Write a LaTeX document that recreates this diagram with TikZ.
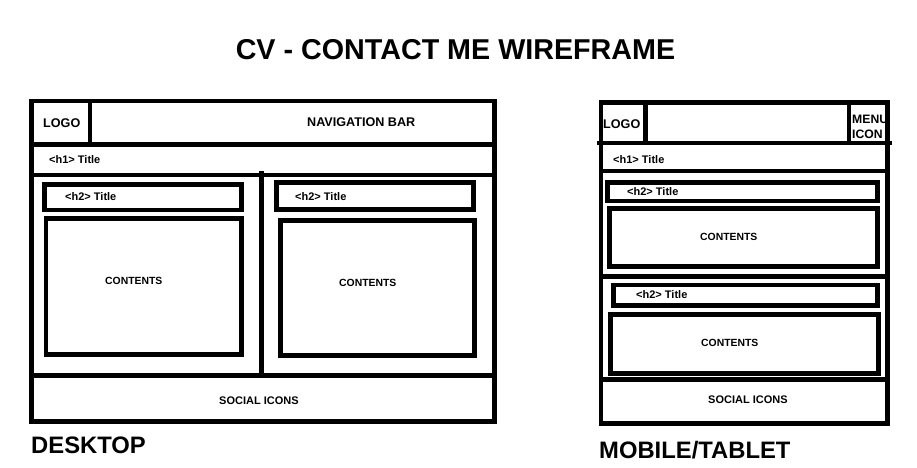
\documentclass[tikz,border=0pt]{standalone}
\usepackage{fontspec}
\setmainfont{Liberation Sans}
\begin{document}
\begin{tikzpicture}[x=1pt,y=-1pt,
  frame/.style={draw=black,line width=4.6pt},
  lbl/.style={anchor=base west,inner sep=0pt,font=\bfseries\fontsize{11}{13}\selectfont},
  cnt/.style={lbl,font=\bfseries\fontsize{10.4}{12}\selectfont},
  navlbl/.style={lbl,font=\bfseries\fontsize{12.6}{14}\selectfont},
  menulbl/.style={lbl,font=\bfseries\fontsize{12.2}{14}\selectfont},
  head/.style={anchor=base west,inner sep=0pt,font=\bfseries\fontsize{23.8}{26}\selectfont}]
\useasboundingbox (0,0) rectangle (917,467);

% page heading
\node[anchor=base,inner sep=0pt,font=\bfseries\fontsize{28.7}{31}\selectfont] (heading) at (455.5,59) {CV - CONTACT ME WIREFRAME};

% ---------- desktop layout ----------
\draw[frame] (31.5,101) rectangle (494.5,421.5);
\draw[frame] (90,101) -- (90,144.5);
\draw[frame] (31.5,144.5) -- (494.5,144.5);
\draw[frame] (31.5,175) -- (494.5,175);
\draw[frame] (261.5,171) -- (261.5,375.5);
\draw[frame] (31.5,375.5) -- (494.5,375.5);
\draw[frame] (44.5,184.5) rectangle (241.5,210);
\draw[frame] (46,218.5) rectangle (241.5,354.5);
\draw[frame] (276.5,182.5) rectangle (473.5,209.5);
\draw[frame] (280.5,220.5) rectangle (474.5,355.5);

\node[navlbl] (dlogo) at (43,127) {LOGO};
\node[navlbl] (dnav) at (307,126) {NAVIGATION BAR};
\node[lbl] (dh1) at (49,163) {<h1> Title};
\node[lbl] (dh2a) at (65,200) {<h2> Title};
\node[lbl] (dh2b) at (295,200) {<h2> Title};
\node[cnt] (dcnta) at (105,284) {CONTENTS};
\node[cnt] (dcntb) at (339,286) {CONTENTS};
\node[lbl] (dsoc) at (219,404) {SOCIAL ICONS};
\node[head] (dname) at (31,453) {DESKTOP};

% ---------- mobile / tablet layout ----------
\draw[frame] (601,102.5) rectangle (887.5,423.5);
\draw[frame] (645.5,102.5) -- (645.5,143);
\draw[frame] (849,102.5) -- (849,143);
\draw[frame] (597,143) -- (892,143);
\draw[frame] (601,171) -- (887.5,171);
\draw[frame] (607.5,182.5) rectangle (877.5,201);
\draw[frame] (609.5,208.5) rectangle (877.5,266.5);
\draw[frame] (601,276.5) -- (887.5,276.5);
\draw[frame] (613.5,285) rectangle (877.5,305.5);
\draw[frame] (610.5,314.5) rectangle (878.5,373.5);
\draw[frame] (601,379.5) -- (887.5,379.5);

\node[navlbl] (mlogo) at (603,128) {LOGO};
\node[menulbl] (mmenu) at (852,123) {MENU};
\node[menulbl] (micon) at (852,138) {ICON};
\node[lbl] (mh1) at (613,163) {<h1> Title};
\node[lbl] (mh2a) at (627,195) {<h2> Title};
\node[cnt] (mcnta) at (700,240) {CONTENTS};
\node[lbl] (mh2b) at (636,298) {<h2> Title};
\node[cnt] (mcntb) at (701,346) {CONTENTS};
\node[lbl] (msoc) at (708,403) {SOCIAL ICONS};
\node[head] (mname) at (599,458) {MOBILE/TABLET};
\end{tikzpicture}
\end{document}
